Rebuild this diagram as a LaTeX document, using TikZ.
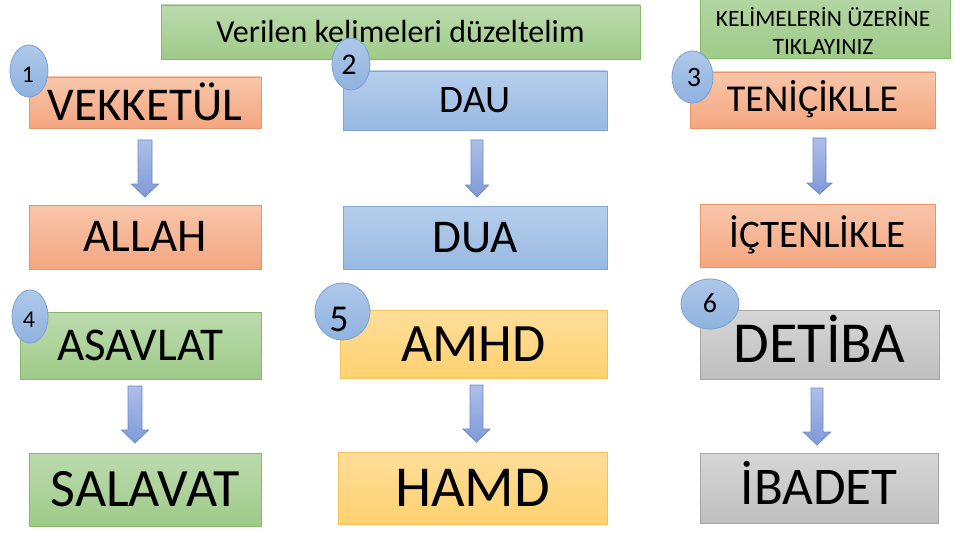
\documentclass[tikz,border=0pt]{standalone}
\usepackage{fontspec}
\setmainfont{Carlito}
\usetikzlibrary{shapes.geometric}
\definecolor{orT}{HTML}{F8C6AA}
\definecolor{orB}{HTML}{F4A680}
\definecolor{orD}{HTML}{EA9468}
\definecolor{blT}{HTML}{B6CEEC}
\definecolor{blB}{HTML}{98B9E2}
\definecolor{blD}{HTML}{7FA5D7}
\definecolor{grT}{HTML}{BCDAAE}
\definecolor{grB}{HTML}{9ECB88}
\definecolor{grD}{HTML}{86B96A}
\definecolor{yeT}{HTML}{FFDE9A}
\definecolor{yeB}{HTML}{FFD170}
\definecolor{yeD}{HTML}{F3C25A}
\definecolor{gyT}{HTML}{D6D6D6}
\definecolor{gyB}{HTML}{BFBFBF}
\definecolor{gyD}{HTML}{A5A5A5}
\definecolor{ciT}{HTML}{AFC8EA}
\definecolor{ciB}{HTML}{8FB2DF}
\definecolor{ciD}{HTML}{7C9FD2}
\definecolor{arT}{HTML}{AEBEE8}
\definecolor{arB}{HTML}{7F9AD8}
\definecolor{arD}{HTML}{6C8ACA}
\newcommand\barrow[6]{\draw[blockarr] ({#1-#5},#2) -- ({#1+#5},#2) -- ({#1+#5},#3) -- ({#1+#6},#3) -- (#1,#4) -- ({#1-#6},#3) -- ({#1-#5},#3) -- cycle;}
\begin{document}
\begin{tikzpicture}[x=1pt,y=-1pt,
  box/.style={draw, line width=0.8pt, inner sep=0pt, text depth=0pt, text=black},
  orbox/.style={box, top color=orT, bottom color=orB, draw=orD},
  blbox/.style={box, top color=blT, bottom color=blB, draw=blD},
  grbox/.style={box, top color=grT, bottom color=grB, draw=grD},
  yebox/.style={box, top color=yeT, bottom color=yeB, draw=yeD},
  gybox/.style={box, top color=gyT, bottom color=gyB, draw=gyD},
  numcirc/.style={ellipse, draw=ciD, line width=0.8pt, top color=ciT, bottom color=ciB, inner sep=0pt},
  numtext/.style={inner sep=0pt, text depth=0pt},
  blockarr/.style={draw=arD, line width=0.8pt, top color=arT, bottom color=arB},
  fs/.style={font=\fontsize{#1}{#1}\selectfont, text height={0.63*#1pt}}
]
\useasboundingbox (0,0) rectangle (960,540);
% header boxes
\node[grbox, fs=32, minimum width=479pt, minimum height=54pt] (title) at (400.5,32) {Verilen kelimeleri düzeltelim};
\node[grbox, minimum width=250pt, minimum height=84pt] (note) at (825,16) {};
\node[anchor=base, inner sep=0pt, font=\fontsize{23.5}{23.5}\selectfont] (note1) at (823,27) {KELİMELERİN ÜZERİNE};
\node[anchor=base, inner sep=0pt, font=\fontsize{23.5}{23.5}\selectfont] (note2) at (823,55) {TIKLAYINIZ};
% row 1
\node[orbox, fs=47, minimum width=232pt, minimum height=51pt] (vek) at (145,102.5) {\raisebox{-3pt}{VEKKETÜL}};
\node[blbox, fs=39, minimum width=264pt, minimum height=59pt] (dau) at (475,100.5) {DAU};
\node[orbox, fs=38, minimum width=245pt, minimum height=56pt] (ten) at (812.5,100) {TENİÇİKLLE};
% row 2
\node[orbox, fs=47, minimum width=232pt, minimum height=64pt] (allah) at (145,237) {ALLAH};
\node[blbox, fs=47, minimum width=264pt, minimum height=63pt] (dua) at (475,237.5) {DUA};
\node[orbox, fs=39, minimum width=235pt, minimum height=63pt] (ict) at (817.5,235.5) {İÇTENLİKLE};
% row 3
\node[grbox, fs=47, minimum width=241pt, minimum height=67pt] (asa) at (140.5,345.5) {ASAVLAT};
\node[yebox, fs=54, minimum width=267pt, minimum height=68pt] (amhd) at (473.5,344) {AMHD};
\node[gybox, fs=58, minimum width=239pt, minimum height=69pt] (det) at (819.5,344.5) {DETİBA};
% row 4
\node[grbox, fs=54, minimum width=232pt, minimum height=73pt] (sal) at (145,489.5) {SALAVAT};
\node[yebox, fs=58, minimum width=269pt, minimum height=72pt] (hamd) at (472.5,488) {HAMD};
\node[gybox, fs=53, minimum width=238pt, minimum height=70pt] (iba) at (819,488) {İBADET};
% block arrows
\barrow{145}{140}{184}{197}{7}{13.5}
\barrow{477}{140}{185}{197}{6}{11.5}
\barrow{819.5}{138}{183}{194}{6.5}{12.5}
\barrow{135}{386}{430}{443}{7}{13.5}
\barrow{476.5}{385}{429}{442}{6.5}{13.5}
\barrow{817}{388}{432}{445}{6}{13.5}
% number circles
\node[numcirc, minimum width=38pt, minimum height=52pt] (c1) at (29,71) {};
\node[numtext, fs=24] (n1) at (28,74.5) {1};
\node[numcirc, minimum width=38pt, minimum height=52pt] (c2) at (351,64) {};
\node[numtext, fs=30] (n2) at (349,65) {2};
\node[numcirc, minimum width=41pt, minimum height=52pt] (c3) at (692.5,77) {};
\node[numtext, fs=28] (n3) at (694,78) {3};
\node[numcirc, minimum width=36pt, minimum height=53pt] (c4) at (30,316.5) {};
\node[numtext, fs=24] (n4) at (29,319.5) {4};
\node[numcirc, minimum width=55pt, minimum height=57pt] (c5) at (342.5,311.5) {};
\node[numtext, fs=38] (n5) at (339,320) {5};
\node[numcirc, minimum width=58pt, minimum height=50pt] (c6) at (710,304) {};
\node[numtext, fs=28] (n6) at (710,304) {6};
\end{tikzpicture}
\end{document}
